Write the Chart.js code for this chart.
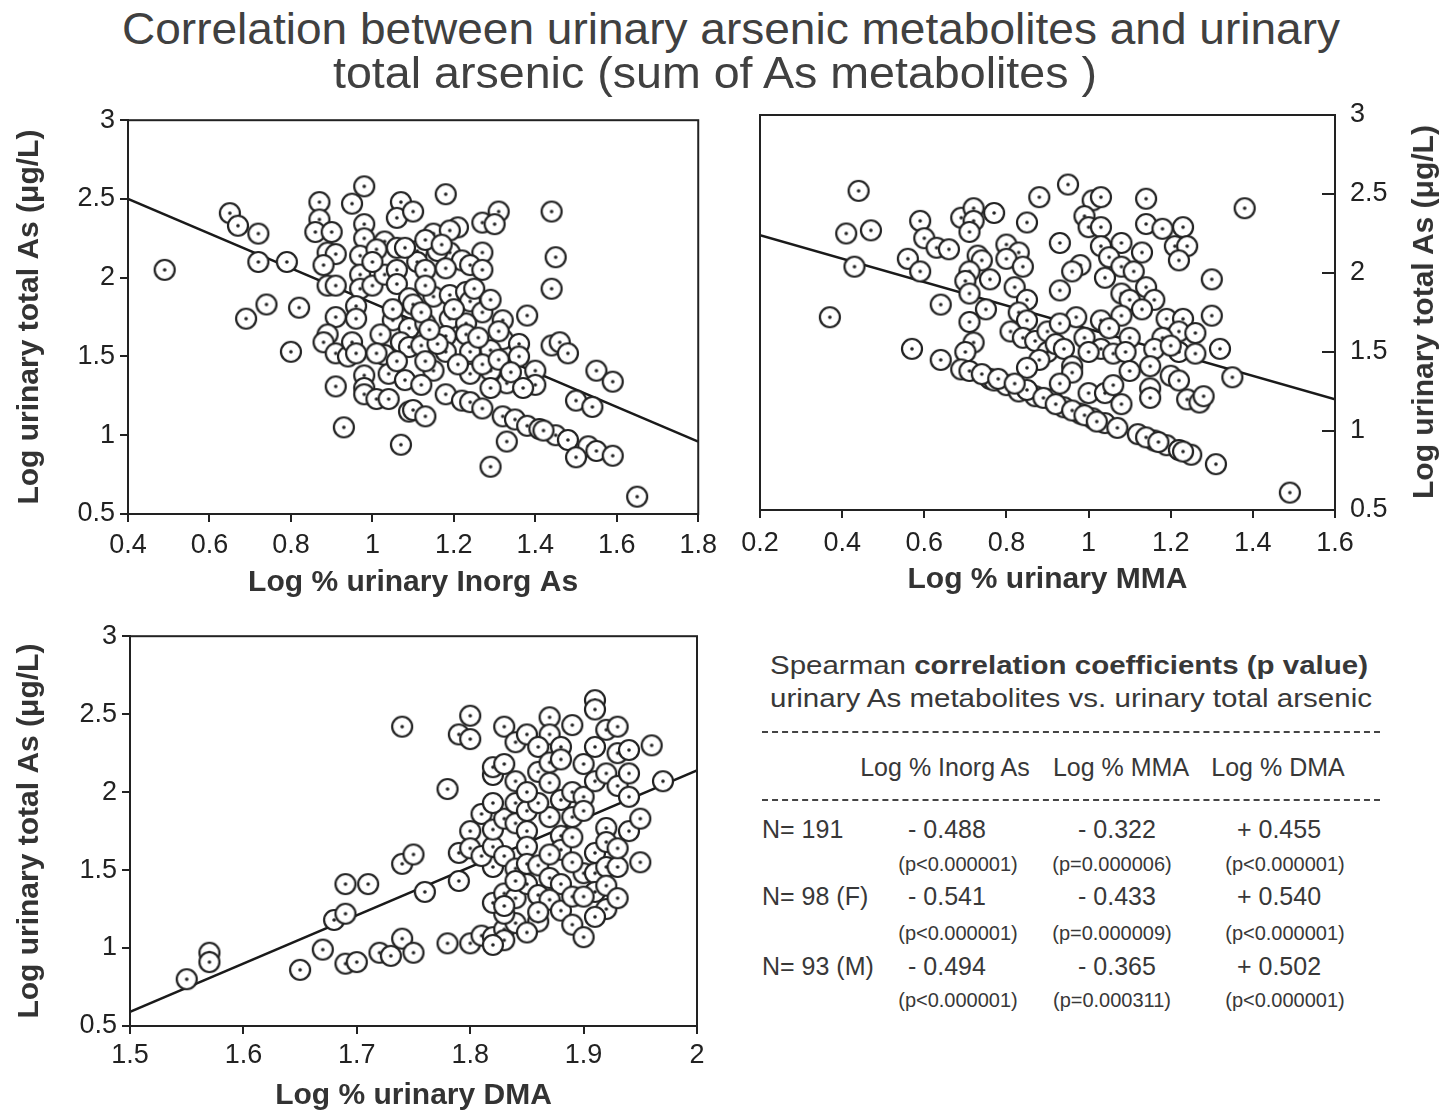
<!DOCTYPE html>
<html>
<head>
<meta charset="utf-8">
<script src="https://cdn.jsdelivr.net/npm/chart.js"></script>
<style>
  body{margin:0;background:#fff;width:1450px;height:1114px;position:relative;overflow:hidden;
       font-family:"Liberation Sans",Arial,Helvetica,sans-serif;color:#333}
  canvas{position:absolute}
  .t{position:absolute;white-space:nowrap;line-height:1}
  .dash{position:absolute;left:762px;width:618px;border-top:2px dashed #444}
</style>
</head>
<body>
<canvas id="cInorg" width="724" height="521" style="left:0;top:99px"></canvas>
<canvas id="cMma" width="720" height="525" style="left:730px;top:95px"></canvas>
<canvas id="cDma" width="720" height="499" style="left:0;top:615px"></canvas>
<div class="dash" style="top:731px"></div>
<div class="dash" style="top:799px"></div>
<script>
// tick labels
const yTicks=[0.5,1,1.5,2,2.5,3];
const inorgTicks=[0.4,0.6,0.8,1,1.2,1.4,1.6,1.8];
const mmaTicks=[0.2,0.4,0.6,0.8,1,1.2,1.4,1.6];
const dmaTicks=[1.5,1.6,1.7,1.8,1.9,2];

// Log % urinary Inorg As vs log total As
const inorgX=[
0.49,0.65,0.67,0.72,0.72,0.79,0.69,0.74,0.82,0.80,
0.87,0.87,0.86,0.90,0.89,0.91,0.88,0.89,0.91,0.95,
0.98,0.98,0.98,0.97,0.97,0.97,1.00,0.96,0.96,0.91,
0.89,0.88,0.91,0.94,0.95,0.96,0.91,0.93,0.98,0.98,
0.98,1.01,1.04,1.03,1.04,1.05,1.07,1.06,1.10,1.03,
1.01,1.06,1.03,1.06,1.06,1.09,1.10,1.09,1.07,1.09,
1.06,1.08,1.09,1.07,1.11,1.11,1.18,1.27,1.31,1.30,
1.44,1.45,1.44,1.21,1.15,1.19,1.19,1.16,1.22,1.27,
1.24,1.27,1.13,1.18,1.08,1.15,1.19,1.23,1.24,1.27,
1.13,1.13,1.19,1.23,1.18,1.23,1.32,1.38,1.32,1.36,
1.36,1.29,1.24,1.18,1.12,1.44,1.46,1.48,1.40,1.40,
1.29,1.33,1.29,1.24,1.15,1.13,1.12,1.18,1.22,1.24,
1.27,1.10,1.13,1.55,1.59,1.50,1.54,1.32,1.35,1.38,
1.41,1.45,1.48,1.53,1.55,1.50,1.59,1.33,1.29,1.65,
1.20,1.26,1.16,1.21,1.27,1.31,1.34,1.37,1.42,1.02,
1.05,1.12,1.00,1.13,1.17,1.25,1.29,1.31,1.14,1.01];
const inorgY=[
2.05,2.41,2.33,2.28,2.10,2.10,1.74,1.83,1.81,1.53,
2.48,2.37,2.29,2.29,2.16,2.15,2.08,1.95,1.95,2.47,
2.58,2.34,2.25,2.14,2.02,1.93,1.95,1.82,1.74,1.75,
1.64,1.59,1.52,1.50,1.59,1.52,1.31,1.05,1.38,1.30,
1.26,1.23,1.23,1.51,1.39,1.73,2.48,2.38,2.42,2.23,
2.18,2.19,2.02,2.05,1.96,1.87,1.83,1.68,1.59,1.56,
1.47,1.35,1.15,0.94,2.17,2.10,2.53,2.35,2.42,2.34,
2.42,2.13,1.93,2.32,2.28,2.30,2.16,2.17,2.11,2.16,
2.08,2.05,2.05,2.06,2.19,1.88,1.89,1.91,1.85,1.78,
1.95,1.71,1.74,1.71,1.63,1.64,1.73,1.76,1.61,1.58,
1.50,1.54,1.53,1.53,1.57,1.57,1.59,1.52,1.41,1.32,
1.41,1.33,1.30,1.39,1.41,1.47,1.32,1.26,1.22,1.21,
1.17,1.16,1.12,1.41,1.34,1.22,1.18,1.12,1.10,1.06,
1.04,1.00,0.97,0.93,0.90,0.86,0.87,0.96,0.80,0.61,
1.80,1.62,1.58,1.45,1.45,1.48,1.40,1.30,1.03,1.64,
1.80,1.78,2.10,2.24,2.21,1.93,1.86,1.66,1.67,1.52];
const inorgFitX=[0.4,1.8], inorgFitY=[2.5,0.96];

// Log % urinary MMA vs log total As
const mmaX=[
0.44,0.41,0.47,0.43,0.37,0.59,0.60,0.63,0.66,0.56,
0.59,0.64,0.57,0.64,0.69,0.72,0.72,0.71,0.77,0.73,
0.74,0.71,0.70,0.71,0.76,0.75,0.71,0.72,0.70,0.69,
0.71,0.76,0.77,0.80,0.83,0.87,0.88,0.85,0.80,0.83,
0.80,0.84,0.82,0.85,0.83,0.85,0.81,0.84,0.87,0.90,
0.90,0.88,0.85,0.91,0.95,1.01,1.03,0.99,1.00,1.03,
0.93,1.03,1.08,1.05,1.08,1.11,1.04,1.13,1.14,1.14,
1.18,1.23,1.21,1.24,1.22,1.38,0.98,0.96,0.93,1.14,
1.08,1.10,1.16,1.13,1.08,1.19,1.23,1.22,1.26,1.30,
1.30,1.32,1.35,0.97,1.03,0.93,1.05,0.99,0.92,1.10,
1.18,0.94,1.03,1.06,1.09,1.16,1.22,1.26,0.96,0.96,
1.10,1.15,1.20,1.22,0.93,1.00,1.04,1.06,1.08,1.15,
1.15,1.24,1.27,1.28,0.85,0.94,0.98,1.01,1.04,1.07,
1.12,1.16,1.19,1.22,1.25,1.31,1.49,0.74,0.78,0.82,
0.89,0.92,0.96,0.99,1.02,1.14,1.17,1.23,1.20,1.00];
const mmaY=[
2.52,2.25,2.27,2.04,1.72,2.33,2.22,2.16,2.15,2.09,
2.01,1.80,1.52,1.45,2.35,2.41,2.33,2.26,2.38,2.11,
2.08,2.01,1.95,1.87,1.96,1.77,1.69,1.56,1.50,1.39,
1.38,1.33,1.32,1.29,1.25,1.22,2.48,2.32,2.18,2.13,
2.09,2.04,1.91,1.83,1.75,1.70,1.63,1.59,1.57,1.63,
1.50,1.45,1.40,1.20,2.56,2.46,2.48,2.36,2.29,2.29,
2.19,2.17,2.19,2.10,2.04,2.01,1.97,2.13,2.47,2.31,
2.28,2.29,2.17,2.17,2.08,2.41,2.05,2.01,1.89,1.91,
1.87,1.83,1.83,1.77,1.73,1.71,1.71,1.63,1.62,1.96,
1.73,1.52,1.34,1.72,1.70,1.68,1.65,1.59,1.55,1.59,
1.59,1.52,1.52,1.49,1.50,1.52,1.50,1.49,1.41,1.37,
1.38,1.41,1.35,1.32,1.30,1.24,1.24,1.29,1.17,1.27,
1.21,1.20,1.18,1.22,1.26,1.15,1.11,1.08,1.05,1.02,
0.98,0.94,0.91,0.88,0.85,0.79,0.61,1.36,1.33,1.30,
1.21,1.17,1.13,1.10,1.06,0.96,0.93,0.87,1.54,1.50];
const mmaFitX=[0.2,1.6], mmaFitY=[2.24,1.20];

// Log % urinary DMA vs log total As
const dmaX=[
1.55,1.57,1.57,1.65,1.67,1.68,1.69,1.69,1.71,1.69,
1.70,1.72,1.73,1.74,1.75,1.74,1.74,1.75,1.76,1.78,
1.79,1.78,1.80,1.80,1.79,1.80,1.81,1.80,1.79,1.80,
1.81,1.82,1.83,1.84,1.83,1.82,1.83,1.84,1.82,1.81,
1.82,1.82,1.83,1.82,1.82,1.82,1.83,1.83,1.84,1.85,
1.84,1.84,1.84,1.83,1.84,1.85,1.85,1.85,1.85,1.85,
1.86,1.86,1.86,1.87,1.87,1.86,1.88,1.86,1.87,1.87,
1.88,1.87,1.88,1.88,1.88,1.87,1.88,1.87,1.88,1.89,
1.89,1.89,1.89,1.89,1.89,1.90,1.90,1.90,1.90,1.91,
1.91,1.91,1.91,1.91,1.91,1.91,1.92,1.93,1.92,1.92,
1.92,1.92,1.92,1.92,1.93,1.93,1.93,1.93,1.94,1.94,
1.94,1.94,1.95,1.95,1.96,1.97,1.86,1.85,1.87,1.90,
1.89,1.84,1.83,1.86,1.85,1.83,1.82,1.91,1.93,1.90];
const dmaY=[
0.80,0.97,0.91,0.86,0.99,1.18,1.22,1.41,1.41,0.90,
0.91,0.97,0.95,1.06,0.97,2.42,1.54,1.60,1.36,2.02,
1.43,1.03,1.03,2.49,2.37,2.34,1.86,1.75,1.61,1.64,
1.08,1.07,1.12,1.16,1.22,1.29,1.35,1.32,1.52,1.59,
1.65,1.76,1.83,1.93,2.11,2.16,2.18,2.42,2.32,2.37,
2.07,1.93,1.80,1.59,1.51,1.88,1.75,1.65,1.54,1.41,
1.53,1.34,1.17,2.48,2.37,2.29,2.29,2.13,2.19,2.06,
2.21,1.84,1.95,1.72,1.63,1.45,1.41,1.31,1.24,2.43,
2.00,1.84,1.71,1.33,1.15,1.07,1.97,1.48,2.18,2.59,
2.53,2.29,2.07,1.61,1.48,1.36,2.40,2.42,2.12,1.77,
1.68,1.52,1.40,1.25,2.25,2.04,1.52,1.32,2.27,2.12,
1.97,1.75,1.83,1.55,2.30,2.07,1.93,2.00,1.60,1.88,
1.55,1.43,1.27,1.23,1.10,1.05,1.02,1.20,1.64,1.33];
const dmaFitX=[1.5,2.0], dmaFitY=[0.59,2.14];

// Spearman table
const colHeads=['Log % Inorg As','Log % MMA','Log % DMA'];
const rowLabels=['N= 191','N= 98 (F)','N= 93 (M)'];
const rhoVals=[['- 0.488','- 0.322','+ 0.455'],['- 0.541','- 0.433','+ 0.540'],['- 0.494','- 0.365','+ 0.502']];
const pVals=[['(p<0.000001)','(p=0.000006)','(p<0.000001)'],['(p<0.000001)','(p=0.000009)','(p<0.000001)'],['(p<0.000001)','(p=0.000311)','(p<0.000001)']];

const yTitle='Log urinary total As (\u03bcg/L)';
const ink='#222';

Chart.defaults.font.family='"Liberation Sans", Arial, Helvetica, sans-serif';
Chart.defaults.color=ink;

// open circle with centre dot
function ring(){
  const c=document.createElement('canvas'); c.width=c.height=26;
  const g=c.getContext('2d');
  g.beginPath(); g.arc(13,13,10,0,Math.PI*2);
  g.fillStyle='#fff'; g.fill(); g.lineWidth=2.2; g.strokeStyle=ink; g.stroke();
  g.beginPath(); g.arc(13,13,1.8,0,Math.PI*2); g.fillStyle=ink; g.fill();
  return c;
}
const dot=ring();

// box round plot area + optional inward ticks on right axis
const frame={id:'frame',
  afterDatasetsDraw(chart,args,o){
    const a=chart.chartArea, g=chart.ctx;
    g.save(); g.strokeStyle=ink; g.lineWidth=2;
    g.strokeRect(a.left,a.top,a.right-a.left,a.bottom-a.top);
    if(o.inTicks){
      const s=chart.scales.y;
      o.inTicks.forEach(v=>{const p=s.getPixelForValue(v);
        g.beginPath(); g.moveTo(a.right-13,p); g.lineTo(a.right,p); g.stroke();});
    }
    g.restore();
  }};

function pts(xs,ys){return xs.map((x,i)=>({x:x,y:ys[i]}));}

function plot(id,xs,ys,fx,fy,xT,xTitle,o){
  const right=o.yPos==='right';
  return new Chart(document.getElementById(id),{
    type:'scatter',
    data:{datasets:[
      {data:pts(xs,ys),pointStyle:dot,pointRadius:11,pointHoverRadius:11,order:0},
      {type:'line',data:pts(fx,fy),borderColor:'#1a1a1a',borderWidth:2.5,pointRadius:0,order:1}
    ]},
    options:{
      responsive:false,animation:false,devicePixelRatio:1,
      layout:{padding:o.pad},
      plugins:{legend:{display:false},tooltip:{enabled:false},frame:{inTicks:right?yTicks:null}},
      scales:{
        x:{type:'linear',min:xT[0],max:xT[xT.length-1],
          afterBuildTicks:s=>{s.ticks=xT.map(v=>({value:v}));},
          afterFit:s=>{s.height=o.xh;},
          ticks:{autoSkip:false,maxRotation:0,padding:o.xpad,font:{size:27},color:ink,callback:v=>String(v)},
          grid:{drawOnChartArea:false,tickLength:8,color:ink,lineWidth:2},
          border:{color:ink,width:2},
          title:{display:true,text:xTitle,font:{size:30,weight:'bold'},color:'#333',padding:{top:0,bottom:o.xtp}}
        },
        y:{type:'linear',position:right?'right':'left',min:0.5,max:3,
          afterBuildTicks:s=>{s.ticks=yTicks.map(v=>({value:v}));},
          afterFit:s=>{s.width=o.yw;},
          ticks:{autoSkip:false,padding:right?0:5,font:{size:27},color:ink,callback:v=>String(v)},
          grid:{drawOnChartArea:false,tickLength:right?15:8,color:ink,tickColor:right?'rgba(0,0,0,0)':ink,lineWidth:2},
          border:{color:ink,width:2},
          title:{display:!right,text:yTitle,font:{size:30,weight:'bold'},color:'#333',padding:{top:12,bottom:0}}
        }
      }
    },
    plugins:[frame]
  });
}

plot('cInorg',inorgX,inorgY,inorgFitX,inorgFitY,inorgTicks,'Log % urinary Inorg As',
  {pad:{top:20,right:0,left:0,bottom:0},xh:106,yw:128,xpad:7,xtp:19});
plot('cMma',mmaX,mmaY,mmaFitX,mmaFitY,mmaTicks,'Log % urinary MMA',
  {pad:{top:20,right:0,left:30,bottom:0},xh:110,yw:115,xpad:9,xtp:22,yPos:'right'});
plot('cDma',dmaX,dmaY,dmaFitX,dmaFitY,dmaTicks,'Log % urinary DMA',
  {pad:{top:16,right:23,left:0,bottom:0},xh:88,yw:130,xpad:5,xtp:0});

// html text
function put(txt,x,cy,size,o){
  o=o||{};
  const d=document.createElement('div');
  d.className='t';
  if(o.html) d.innerHTML=txt; else d.textContent=txt;
  d.style.fontSize=size+'px';
  d.style.left=x+'px';
  d.style.top=(cy-0.49*size)+'px';
  d.style.color=o.color||'#383838';
  if(o.bold) d.style.fontWeight='bold';
  document.body.appendChild(d);
  let sx=1;
  if(o.w) sx=o.w/d.getBoundingClientRect().width;
  const left=o.align==='left';
  d.style.transformOrigin=left?'0 0':'50% 0';
  d.style.transform='translateX('+(left?'0':'-50%')+') scaleX('+sx+')';
  return d;
}

put('Correlation between urinary arsenic metabolites and urinary',731,29,44,{w:1218,color:'#404040'});
put('total arsenic (sum of As metabolites )',715,73,44,{w:764,color:'#404040'});

// right-hand y title of the MMA panel (reads bottom to top)
const rt=document.createElement('div');
rt.className='t'; rt.textContent=yTitle;
rt.style.cssText+='font-size:30px;font-weight:bold;color:#333;left:1423px;top:312px;transform:translate(-50%,-50%) rotate(-90deg)';
document.body.appendChild(rt);

put('Spearman <b>correlation coefficients (p value)</b>',770,665,25,{html:true,align:'left',w:598});
put('urinary As metabolites vs. urinary total arsenic',770,698,25,{align:'left',w:602});

const headX=[945,1121,1278], valX=[947,1117,1279], pX=[958,1112,1285];
const rowY=[829,896,966], pY=[864,933,1000];
colHeads.forEach((h,i)=>put(h,headX[i],767,25));
rowLabels.forEach((r,j)=>{
  put(r,762,rowY[j],25,{align:'left'});
  rhoVals[j].forEach((v,i)=>put(v,valX[i],rowY[j],25));
  pVals[j].forEach((v,i)=>put(v,pX[i],pY[j],20));
});
</script>
</body>
</html>
